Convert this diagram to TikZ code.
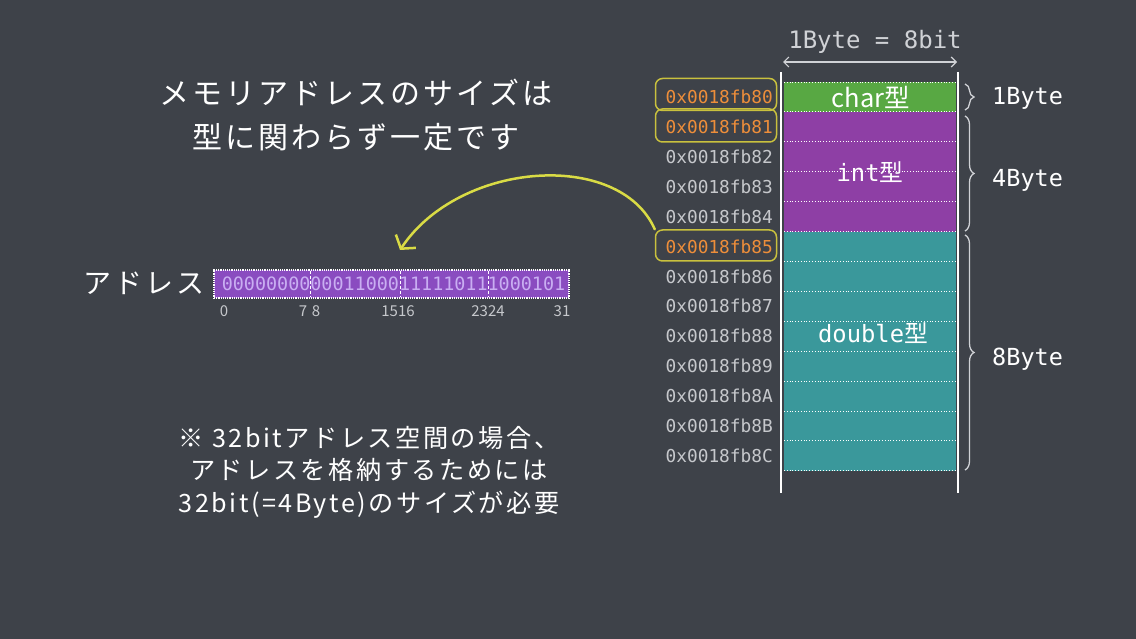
\documentclass[tikz,border=0pt]{standalone}
\usepackage{fontspec}
\setmainfont{Noto Sans CJK JP}
\newfontfamily\jp{Noto Sans CJK JP}
\newfontfamily\jpsp[LetterSpace=10]{Noto Sans CJK JP}
\newfontfamily\mono{DejaVu Sans Mono}
\usetikzlibrary{decorations.pathreplacing,arrows.meta,calc}
\definecolor{board}{HTML}{3E4249}
\definecolor{chargreen}{HTML}{58A843}
\definecolor{intpurple}{HTML}{8E3FA5}
\definecolor{dblteal}{HTML}{3A989B}
\definecolor{addrgrey}{HTML}{C6C8CC}
\definecolor{addrorange}{HTML}{EE8E3A}
\definecolor{hlyellow}{HTML}{C9C13E}
\definecolor{chalkyellow}{HTML}{D9DB45}
\definecolor{barpurple}{HTML}{8A4CC0}
\definecolor{bittext}{HTML}{C9AEF2}
\definecolor{lightchalk}{HTML}{D0D2D6}
\tikzset{
  addr/.style={font=\mono\fontsize{17.8}{20}\selectfont, text=addrgrey, anchor=east, inner sep=0pt},
  addrhl/.style={addr, text=addrorange},
  hlbox/.style={draw=hlyellow, line width=1.5pt, rounded corners=7pt, minimum width=121pt, inner sep=0pt},
  typelabel/.style={text=white, inner sep=0pt},
  bytelabel/.style={font=\mono\fontsize{23.5}{26}\selectfont, text=white, anchor=west, inner sep=0pt},
  bracestyle/.style={decorate, decoration={brace, amplitude=9pt}, draw=lightchalk, line width=1.3pt},
  sep/.style={draw=white, dotted, line width=0.8pt},
  colline/.style={draw=white, line width=2.5pt},
  bitlabel/.style={font=\jp\fontsize{15}{16}\selectfont, text=addrgrey, inner sep=0pt},
  chalkarrow/.style={draw=chalkyellow, line width=2.5pt, line cap=round, -{Straight Barb[length=9pt,width=24pt,line width=2.5pt]}},
}
\begin{document}
\begin{tikzpicture}[x=1pt,y=-1pt]
\fill[board] (0,0) rectangle (1136,639);
\useasboundingbox (0,0) rectangle (1136,639);

% title
\node[align=center, text=white, font=\jpsp\fontsize{30}{44}\selectfont, inner sep=0pt] (title) at (356,115)
  {メモリアドレスのサイズは\\型に関わらず一定です};

% memory fills
\fill[chargreen] (784,82) rectangle (956,112);
\fill[intpurple] (784,112) rectangle (956,231.6);
\fill[dblteal] (784,231.6) rectangle (956,470.7);
\foreach \i in {0,...,13} { \draw[sep] (784,82+29.9*\i) -- (956,82+29.9*\i); }
\draw[colline] (781,72) -- (781,493);
\draw[colline] (958,72) -- (958,493);

% header
\node[text=lightchalk, font=\mono\fontsize{24}{28}\selectfont, inner sep=0pt] (hdr) at (875,42) {1Byte = 8bit};
\coordinate (hl) at (783,62);
\coordinate (hr) at (957,62);
\draw[draw=lightchalk, line width=1.2pt, {Straight Barb[length=5pt,width=10pt]}-{Straight Barb[length=5pt,width=10pt]}] (hl) -- (hr);

% type labels
\node[typelabel, font=\jp\fontsize{25.5}{27}\selectfont] (chart) at (871,97) {char型};
\node[typelabel, font=\mono\fontsize{23.8}{26}\selectfont] (intt) at (870,172) {int{\jp 型}};
\node[typelabel, font=\mono\fontsize{23.8}{26}\selectfont] (dblt) at (873,333) {double{\jp 型}};

% addresses
\foreach \i/\lab/\st in {0/80/addrhl,1/81/addrhl,2/82/addr,3/83/addr,4/84/addr,5/85/addrhl,6/86/addr,7/87/addr,8/88/addr,9/89/addr,10/8A/addr,11/8B/addr,12/8C/addr}{
  \node[\st] (a\i) at (773,97+29.9*\i) {0x0018fb\lab};
}
\node[hlbox, minimum height=32pt] (hl80) at (716,94.5) {};
\node[hlbox, minimum height=33pt] (hl81) at (716,125.5) {};
\node[hlbox, minimum height=31pt] (hl85) at (716,245.5) {};

% braces
\draw[bracestyle] (965,84) -- (965,110);
\draw[bracestyle] (965,116) -- (965,231);
\draw[bracestyle] (965,235) -- (965,470);
\node[bytelabel] (b1) at (992,98) {1Byte};
\node[bytelabel] (b4) at (992,180) {4Byte};
\node[bytelabel] (b8) at (992,359) {8Byte};

% address bar
\node[text=white, font=\jpsp\fontsize{28}{30}\selectfont, inner sep=0pt] (adrlabel) at (144,283) {アドレス};
\node[fill=barpurple, draw=white, densely dotted, line width=1.2pt, minimum width=355pt, minimum height=28pt, inner sep=0pt] (bar) at (391.5,284) {};
\node[text=bittext, font=\mono\fontsize{18.4}{20}\selectfont, inner sep=0pt] (bits) at (393.5,284) {0000000000011000111110111000101};
\foreach \x in {310,400,488}{ \draw[draw=white, densely dashed, line width=1pt] (\x,271) -- (\x,297); }
\node[bitlabel] (l0) at (224,311) {0};
\node[bitlabel] (l7) at (303,311) {7};
\node[bitlabel] (l8) at (316,311) {8};
\node[bitlabel] (l15) at (398,311) {1516};
\node[bitlabel] (l23) at (488,311) {2324};
\node[bitlabel] (l31) at (562,311) {31};

% arrow
\coordinate (arrowend) at (400,250);
\draw[chalkarrow] (hl85.north west) .. controls (620,150) and (460,160) .. (arrowend);

% note
\node[align=center, text=white, font=\jpsp\fontsize{25.2}{32.5}\selectfont, inner sep=0pt] (note) at (369,472)
  {※ 32bitアドレス空間の場合、\\アドレスを格納するためには\\32bit(=4Byte)のサイズが必要};
\end{tikzpicture}
\end{document}
